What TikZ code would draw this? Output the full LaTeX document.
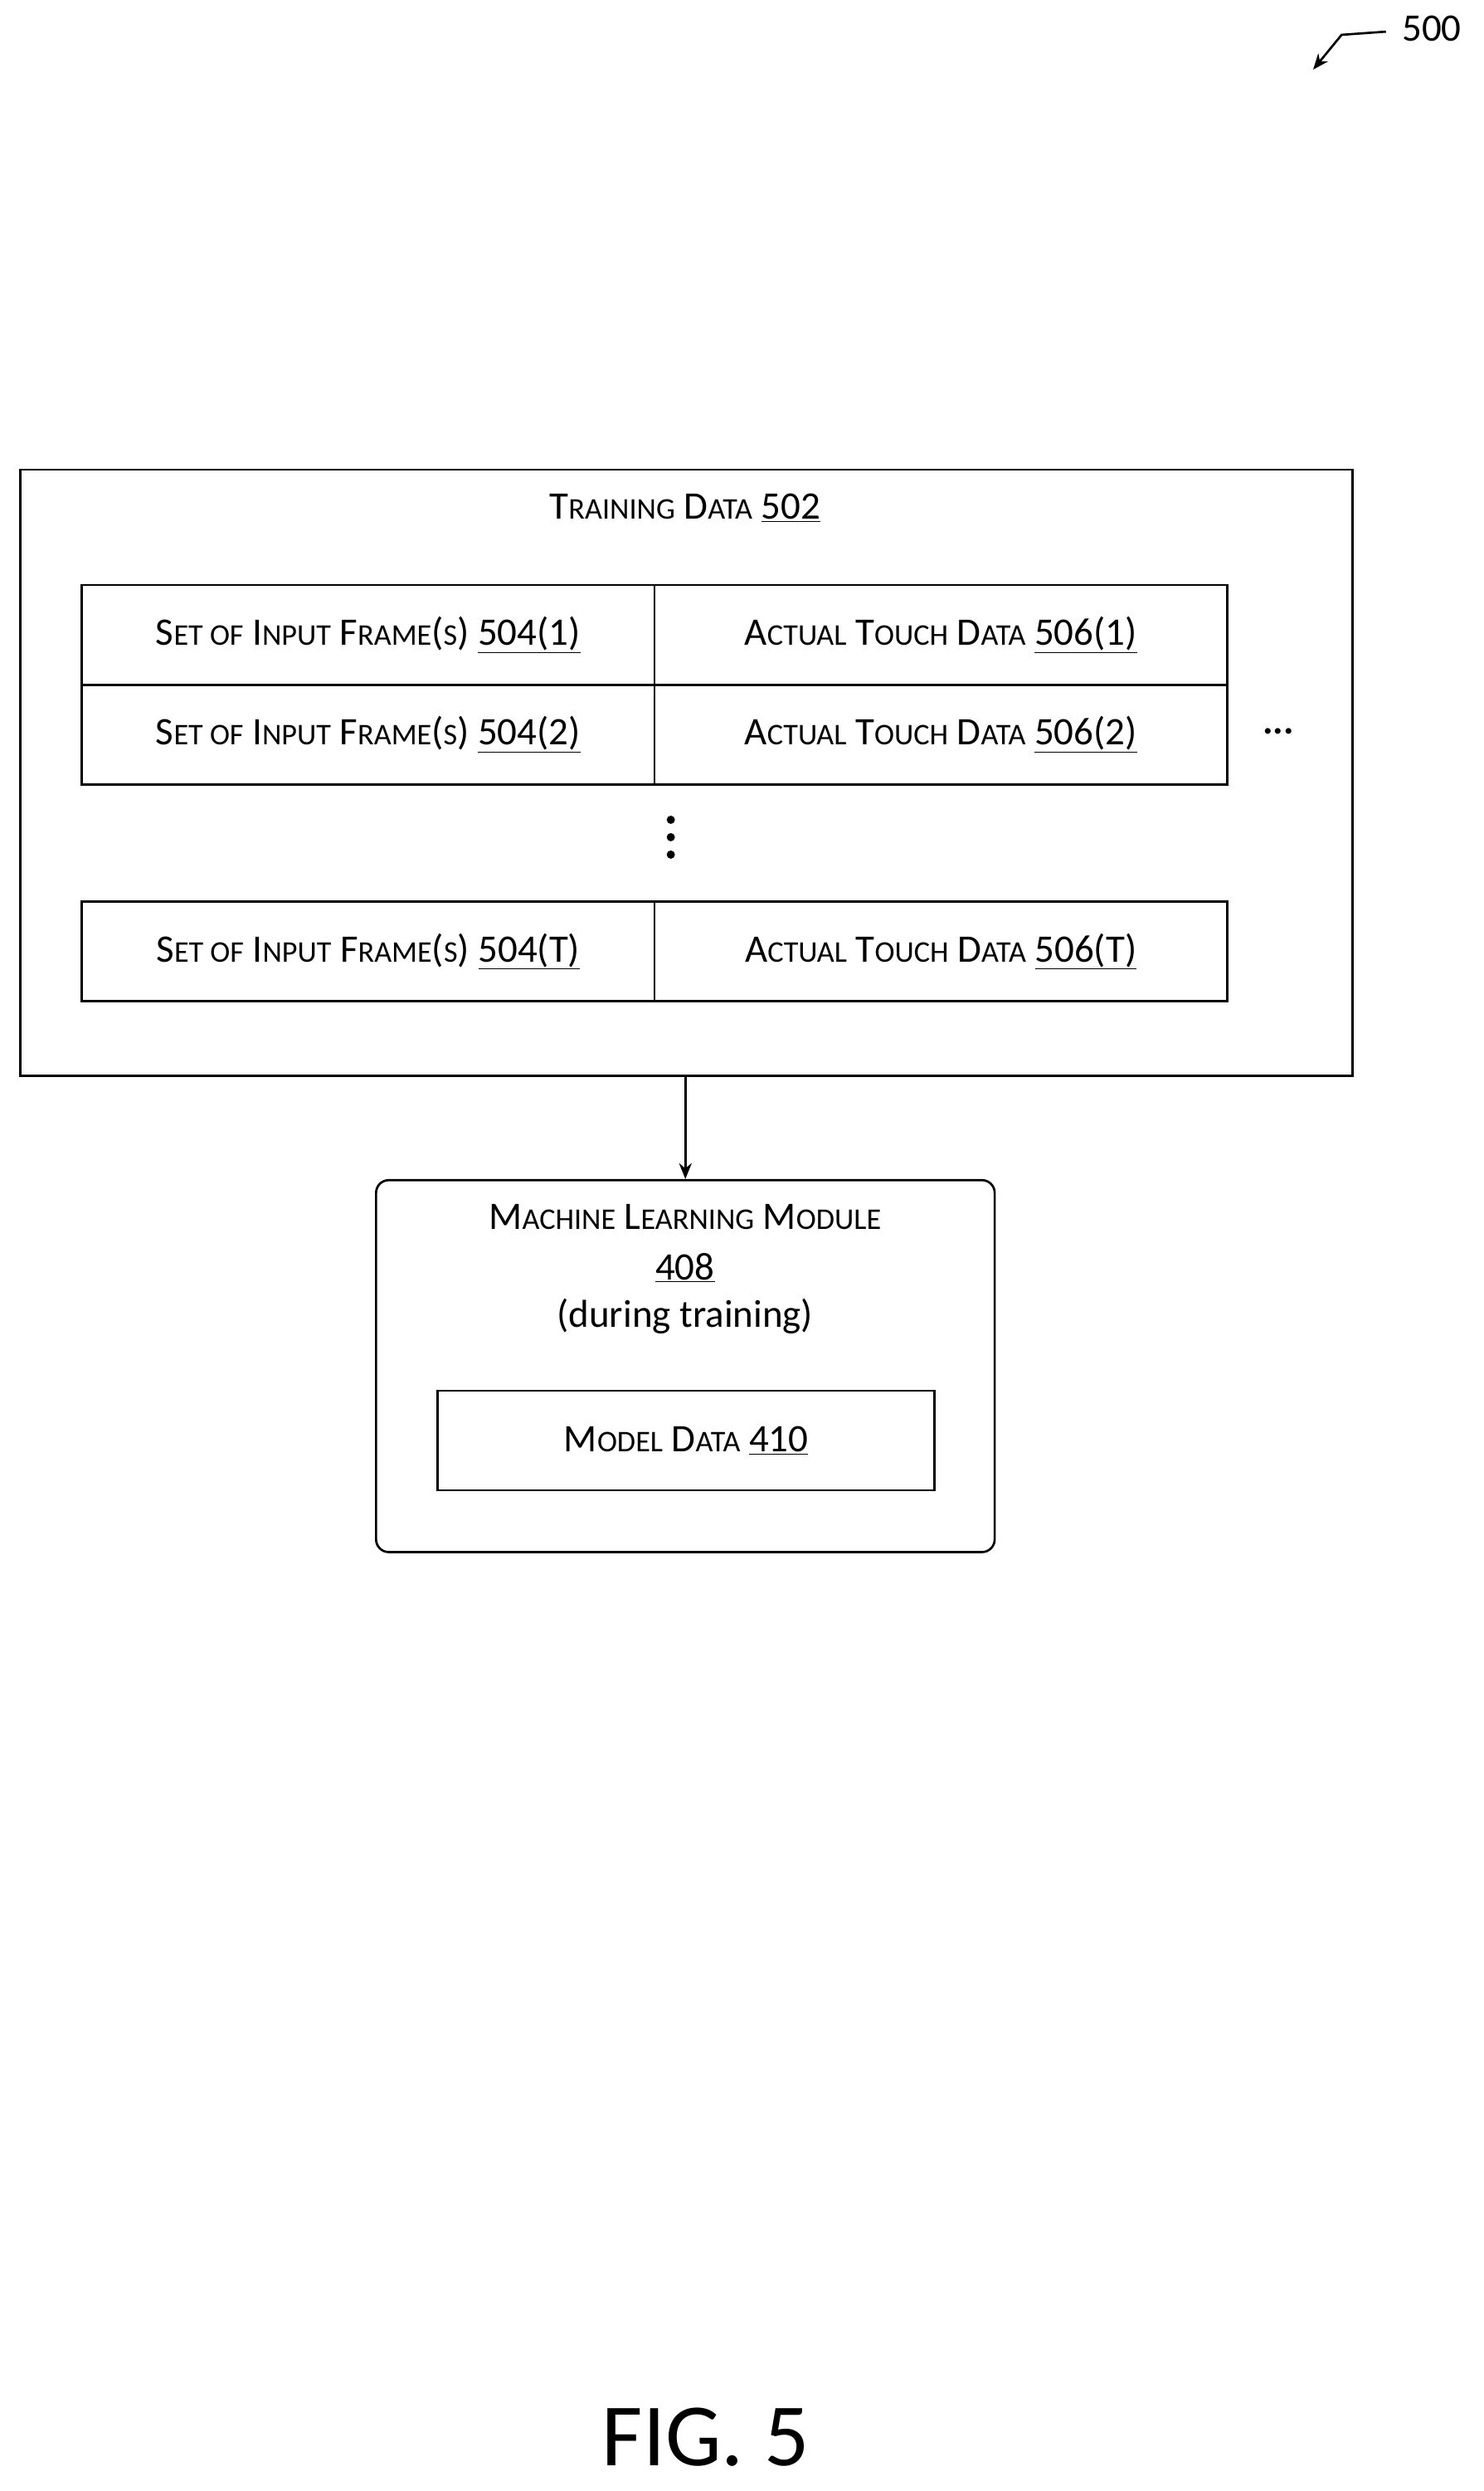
\documentclass[tikz,border=0pt]{standalone}
\usepackage{fontspec}
\setmainfont{Carlito}
\usetikzlibrary{arrows.meta}
\newcommand{\fs}{\fontsize{27}{30}\selectfont}
\newcommand{\ns}{\fontsize{35}{40}\selectfont}
\begin{document}
\begin{tikzpicture}[x=0.5mm,y=-0.5mm,
  bx/.style={draw,line width=2pt},
  lbl/.style={font=\ns,inner sep=0pt,anchor=center},
  arr/.style={line width=2pt,-{Stealth[length=5mm,width=4mm]}}]
\useasboundingbox (0,0) rectangle (938,1574);
\node[bx,minimum width=421mm,minimum height=191.5mm,anchor=north west] (td) at (12,296) {};
\node[lbl] (tdt) at (433,321) {T{\fs RAINING} D{\fs ATA} \underline{502}};
\foreach \y/\k/\n in {369/1/a,432/2/b,569/T/c}{
  \node[bx,minimum width=181mm,minimum height=31.5mm,anchor=north west] (l\n) at (51,\y) {};
  \node[bx,minimum width=181mm,minimum height=31.5mm,anchor=north west] (r\n) at (413,\y) {};
  \node[lbl] at (l\n.center) {S{\fs ET OF} I{\fs NPUT} F{\fs RAME}({\fs S}) \underline{504(\k)}};
  \node[lbl] at (r\n.center) {A{\fs CTUAL} T{\fs OUCH} D{\fs ATA} \underline{506(\k)}};
}
\node[lbl,font=\bfseries\ns] (hd) at (808,462) {...};
\foreach \yy in {518,529,540} \fill (424,\yy) circle (1.3mm);
\node[draw,line width=2pt,rounded corners=4mm,minimum width=195.5mm,minimum height=117.5mm,anchor=north west] (ml) at (237,745) {};
\node[lbl] (mlt) at (433,769) {M{\fs ACHINE} L{\fs EARNING} M{\fs ODULE}};
\node[lbl] (mln) at (433,801) {\underline{408}};
\node[lbl] (mld) at (433,832) {(during training)};
\node[bx,minimum width=157mm,minimum height=31.5mm,anchor=north west] (md) at (276,878) {};
\node[lbl] at (md.center) {M{\fs ODEL} D{\fs ATA} \underline{410}};
\draw[arr] (td.south -| ml.north) -- (ml.north);
\node[lbl] (n500) at (905,18) {500};
\coordinate (c1) at (876,20);
\coordinate (c2) at (848,22);
\draw[arr] (c1) -- (c2) -- (830,44);
\node[lbl,font=\fontsize{80}{90}\selectfont] (fig) at (446,1540) {FIG. 5};
\end{tikzpicture}
\end{document}
